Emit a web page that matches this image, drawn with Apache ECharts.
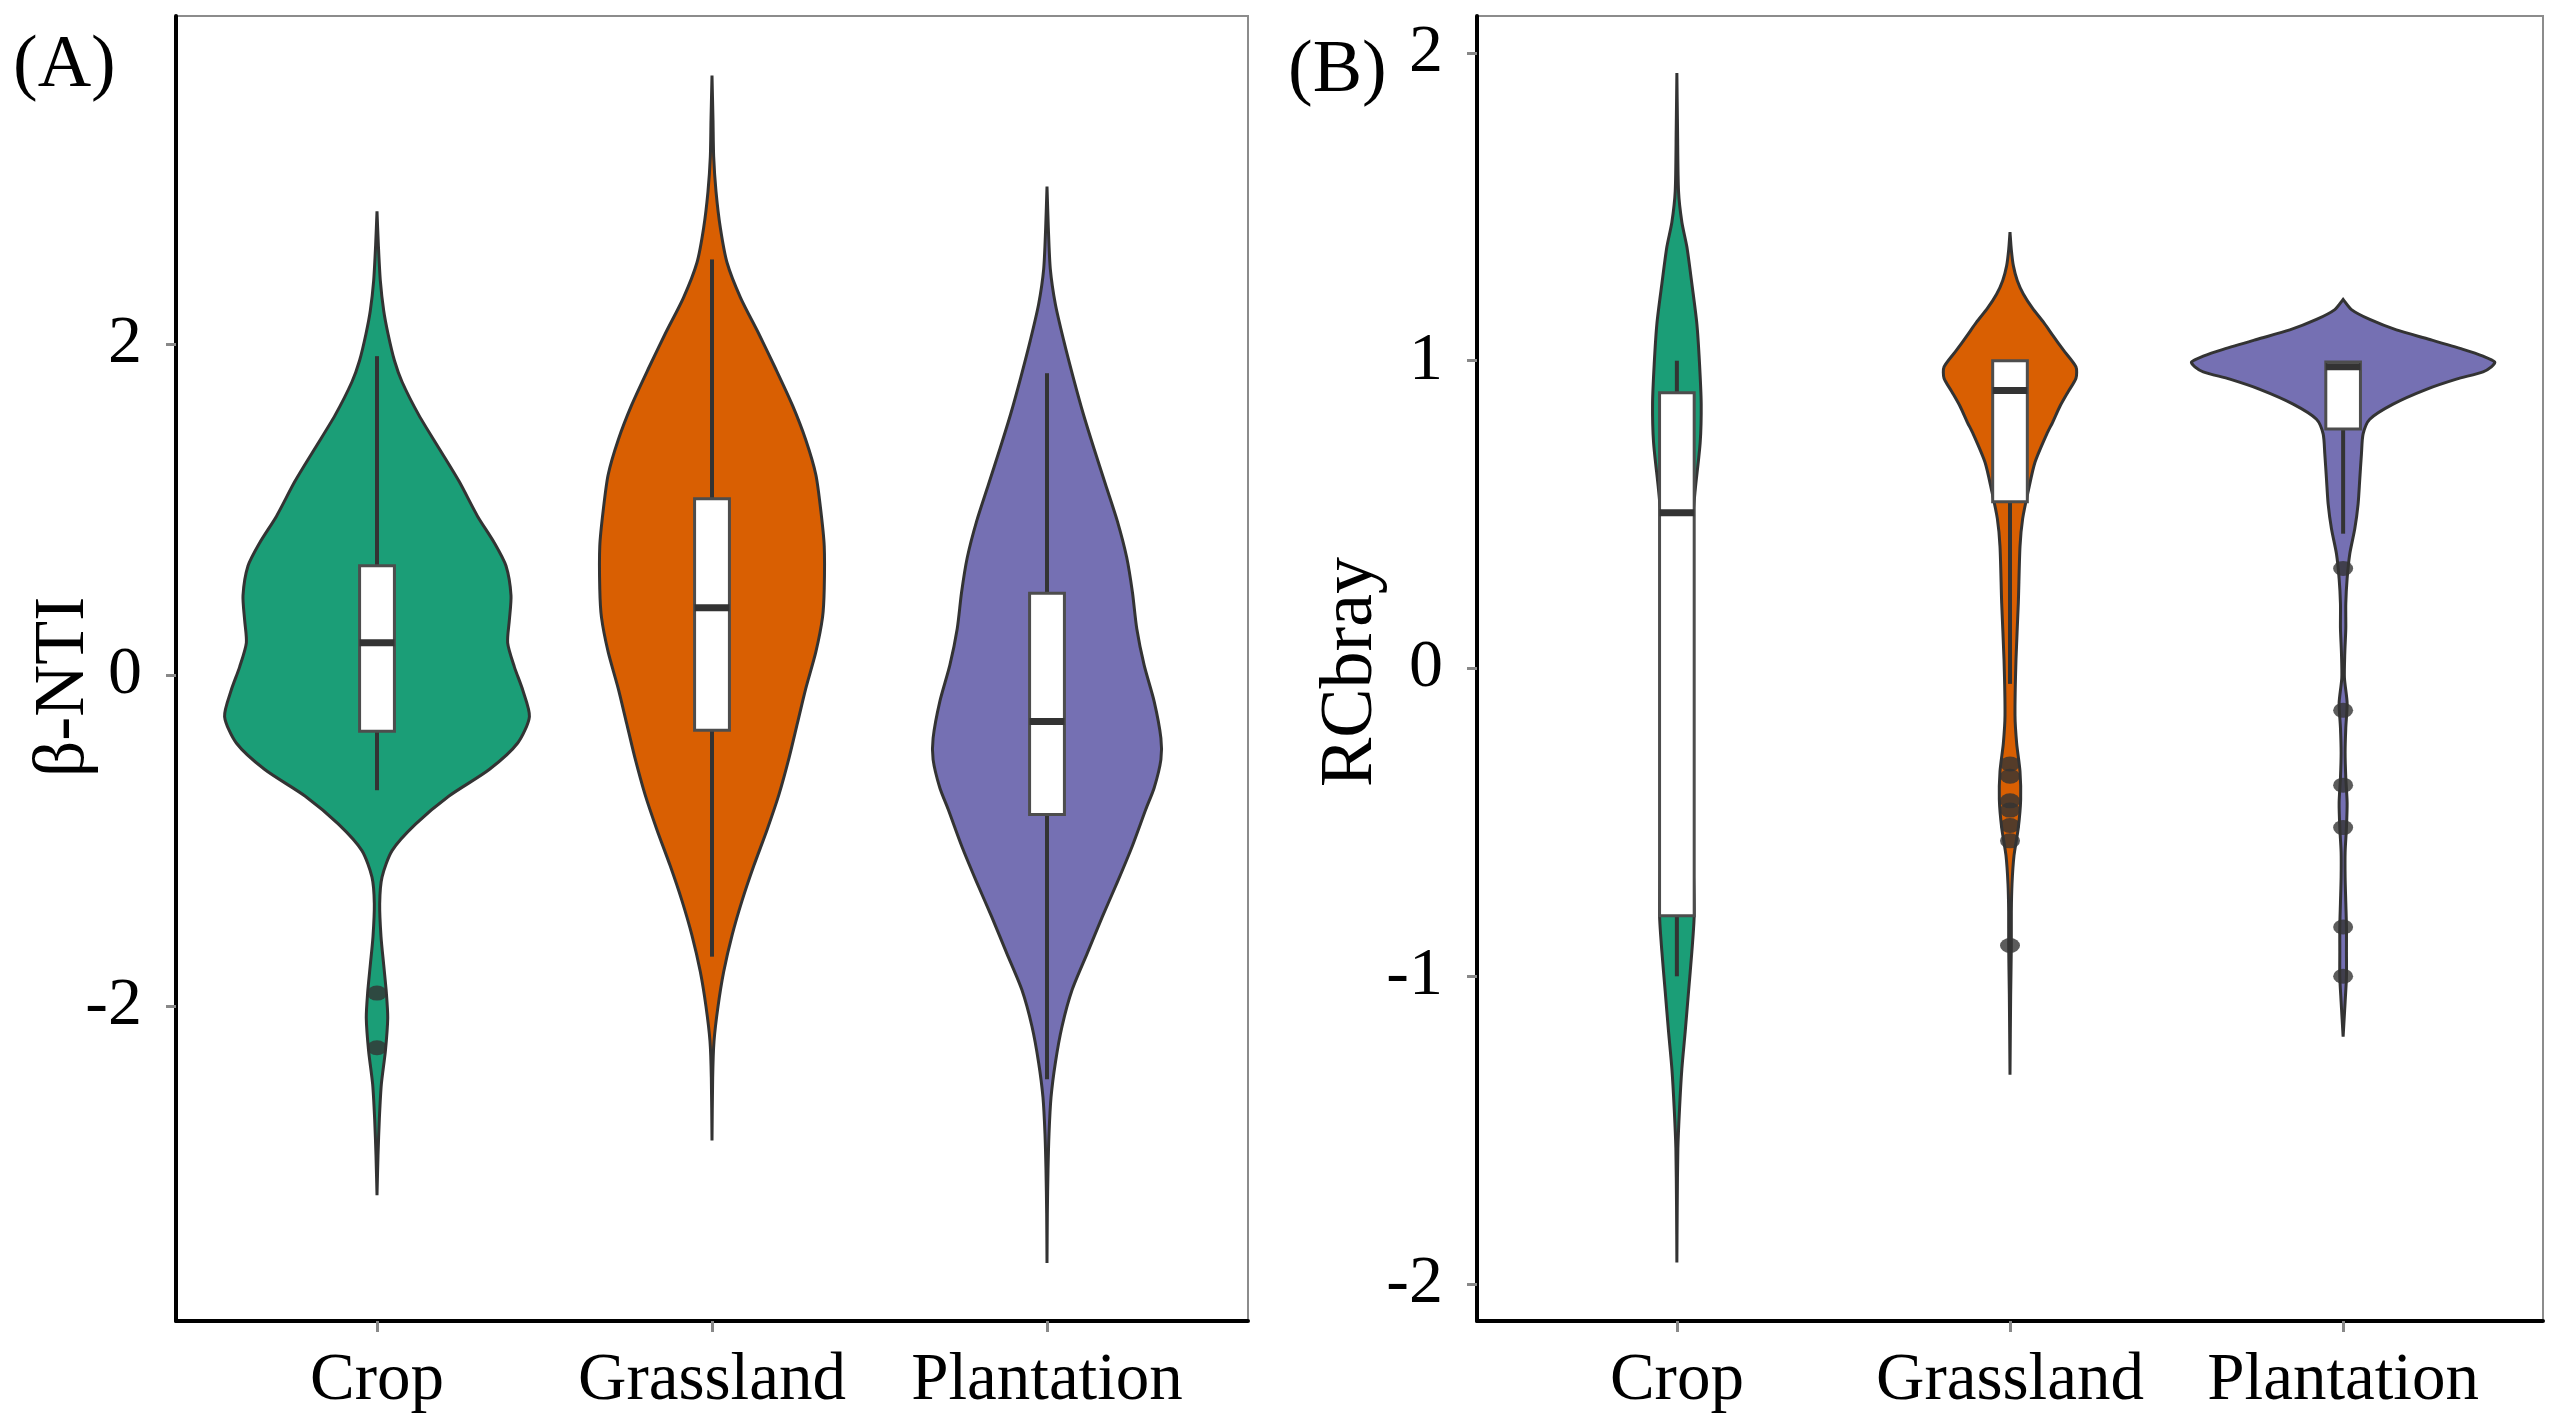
<!DOCTYPE html>
<html><head><meta charset="utf-8">
<script src="https://cdn.jsdelivr.net/npm/echarts@6/dist/echarts.min.js"></script>
<style>html,body{margin:0;padding:0;background:#fff;}#chart{width:2558px;height:1422px;}</style>
</head><body><div id="chart"></div>
<script>
const categories = ['Crop', 'Grassland', 'Plantation'];
const categoryPositions = [1, 2, 3];
const fillColors = ['#1B9E77', '#D95F02', '#7570B3'];
const ntiTicks = [-2, 0, 2];
const rcTicks = [-2, -1, 0, 1, 2];

// Panel A (beta-NTI) violin outlines: value and half-width (category units)
const ntiCropY = [2.80, 2.60, 2.38, 2.20, 2.06, 1.90, 1.77, 1.57, 1.37, 1.17, 0.96, 0.80, 0.66, 0.48, 0.33, 0.195, 0.05, -0.09, -0.25, -0.41, -0.57, -0.73, -0.90, -1.06, -1.22, -1.38, -1.58, -1.75, -1.92, -2.07, -2.27, -2.47, -2.68, -2.90, -3.14];
const ntiCropW = [0, 0.004, 0.01, 0.02, 0.033, 0.052, 0.075, 0.125, 0.185, 0.245, 0.30, 0.35, 0.385, 0.40, 0.395, 0.39, 0.41, 0.435, 0.455, 0.42, 0.335, 0.215, 0.115, 0.045, 0.015, 0.008, 0.012, 0.02, 0.028, 0.032, 0.025, 0.013, 0.007, 0.003, 0];
const ntiGrassY = [3.62, 3.35, 3.13, 2.92, 2.70, 2.49, 2.28, 2.06, 1.85, 1.63, 1.42, 1.21, 0.99, 0.78, 0.52, 0.35, 0.14, -0.08, -0.29, -0.50, -0.72, -0.93, -1.15, -1.36, -1.57, -1.79, -2.00, -2.21, -2.43, -2.81];
const ntiGrassW = [0, 0.003, 0.005, 0.012, 0.025, 0.045, 0.085, 0.14, 0.19, 0.24, 0.28, 0.31, 0.325, 0.335, 0.335, 0.33, 0.31, 0.28, 0.255, 0.23, 0.20, 0.165, 0.125, 0.09, 0.06, 0.035, 0.018, 0.006, 0.002, 0];
const ntiPlantY = [2.95, 2.70, 2.45, 2.24, 2.02, 1.80, 1.58, 1.37, 1.15, 0.93, 0.71, 0.50, 0.28, 0.06, -0.16, -0.38, -0.51, -0.68, -0.81, -1.03, -1.25, -1.46, -1.68, -1.90, -2.12, -2.34, -2.55, -2.77, -2.99, -3.25, -3.55];
const ntiPlantW = [0, 0.004, 0.01, 0.025, 0.05, 0.078, 0.108, 0.14, 0.175, 0.21, 0.238, 0.255, 0.268, 0.29, 0.32, 0.34, 0.34, 0.32, 0.295, 0.255, 0.21, 0.165, 0.12, 0.075, 0.045, 0.025, 0.012, 0.006, 0.003, 0.001, 0];

// Panel B (RCbray) violin outlines
const rcCropY = [1.935, 1.75, 1.55, 1.45, 1.37, 1.25, 1.12, 0.99, 0.86, 0.735, 0.58, 0.45, 0.2, 0, -0.3, -0.6, -0.80, -0.92, -1.05, -1.18, -1.30, -1.43, -1.56, -1.75, -1.93];
const rcCropW = [0, 0.002, 0.005, 0.015, 0.03, 0.045, 0.06, 0.068, 0.073, 0.07, 0.055, 0.045, 0.04, 0.04, 0.042, 0.048, 0.052, 0.045, 0.035, 0.025, 0.015, 0.008, 0.003, 0.001, 0];
const rcGrassY = [1.418, 1.36, 1.309, 1.26, 1.217, 1.17, 1.126, 1.08, 1.035, 0.98, 0.943, 0.90, 0.852, 0.80, 0.761, 0.67, 0.578, 0.487, 0.396, 0.213, 0.03, -0.152, -0.243, -0.334, -0.426, -0.517, -0.608, -0.70, -0.79, -0.90, -1.06, -1.32];
const rcGrassW = [0, 0.004, 0.01, 0.022, 0.04, 0.068, 0.10, 0.13, 0.16, 0.198, 0.198, 0.175, 0.15, 0.128, 0.11, 0.075, 0.055, 0.038, 0.03, 0.025, 0.018, 0.015, 0.02, 0.03, 0.032, 0.025, 0.012, 0.006, 0.004, 0.004, 0.002, 0];
const rcPlantY = [1.199, 1.166, 1.134, 1.10, 1.069, 1.037, 1.015, 0.996, 0.98, 0.964, 0.94, 0.907, 0.859, 0.81, 0.762, 0.697, 0.616, 0.535, 0.454, 0.373, 0.292, 0.211, 0.13, 0.05, -0.031, -0.112, -0.193, -0.274, -0.355, -0.436, -0.516, -0.597, -0.678, -0.76, -0.84, -0.921, -1.002, -1.083, -1.196];
const rcPlantW = [0, 0.025, 0.08, 0.16, 0.26, 0.36, 0.42, 0.455, 0.445, 0.42, 0.34, 0.25, 0.15, 0.08, 0.06, 0.055, 0.05, 0.045, 0.035, 0.02, 0.012, 0.008, 0.008, 0.005, 0.004, 0.012, 0.008, 0.006, 0.008, 0.012, 0.01, 0.006, 0.006, 0.008, 0.01, 0.01, 0.01, 0.006, 0];

// Box stats: [lower whisker, Q1, median, Q3, upper whisker]
const ntiBoxCrop = [-0.695, -0.339, 0.195, 0.660, 1.926];
const ntiBoxGrass = [-1.70, -0.333, 0.407, 1.065, 2.51];
const ntiBoxPlant = [-2.44, -0.842, -0.28, 0.495, 1.823];
const rcBoxCrop = [-1.0, -0.803, 0.506, 0.896, 1.0];
const rcBoxGrass = [-0.05, 0.542, 0.903, 1.0, 1.0];
const rcBoxPlant = [0.438, 0.778, 0.98, 0.996, 0.996];

// Outliers
const ntiOutCrop = [-1.92, -2.25];
const rcOutGrass = [-0.31, -0.35, -0.43, -0.46, -0.51, -0.56, -0.90];
const rcOutPlant = [0.325, -0.136, -0.379, -0.517, -0.84, -1.0];

const FONT = '"Liberation Serif", "Times New Roman", serif';
const BOX_HALF = 0.052;

function violin(gi, pos, ys, ws, color) {
  return {
    type: 'custom', xAxisIndex: gi, yAxisIndex: gi, silent: true, z: 2,
    data: [[pos, ys[0]]],
    renderItem: function (params, api) {
      const cx = api.value(0);
      const pts = [];
      for (let i = 0; i < ys.length; i++) pts.push(api.coord([cx + ws[i], ys[i]]));
      for (let i = ys.length - 1; i >= 0; i--) pts.push(api.coord([cx - ws[i], ys[i]]));
      return { type: 'polygon', shape: { points: pts, smooth: 0.25 }, style: { fill: color, stroke: '#333', lineWidth: 3 } };
    }
  };
}

function boxes(gi, list) {
  return {
    type: 'custom', xAxisIndex: gi, yAxisIndex: gi, silent: true, z: 3,
    data: list.map((b, i) => [categoryPositions[i]].concat(b)),
    renderItem: function (params, api) {
      const cx = api.value(0);
      const lo = api.value(1), q1 = api.value(2), md = api.value(3), q3 = api.value(4), hi = api.value(5);
      const pLo = api.coord([cx, lo]), pQ1 = api.coord([cx, q1]), pQ3 = api.coord([cx, q3]), pHi = api.coord([cx, hi]);
      const tl = api.coord([cx - BOX_HALF, q3]), br = api.coord([cx + BOX_HALF, q1]);
      const ml = api.coord([cx - BOX_HALF, md]), mr = api.coord([cx + BOX_HALF, md]);
      return { type: 'group', children: [
        { type: 'line', shape: { x1: pLo[0], y1: pLo[1], x2: pQ1[0], y2: pQ1[1] }, style: { stroke: '#333', lineWidth: 4 } },
        { type: 'line', shape: { x1: pQ3[0], y1: pQ3[1], x2: pHi[0], y2: pHi[1] }, style: { stroke: '#333', lineWidth: 4 } },
        { type: 'rect', shape: { x: tl[0], y: tl[1], width: br[0] - tl[0], height: br[1] - tl[1] }, style: { fill: '#fff', stroke: '#4d4d4d', lineWidth: 3 } },
        { type: 'line', shape: { x1: ml[0], y1: ml[1], x2: mr[0], y2: mr[1] }, style: { stroke: '#333', lineWidth: 7 } }
      ] };
    }
  };
}

function outliers(gi, pos, vals) {
  return {
    type: 'scatter', xAxisIndex: gi, yAxisIndex: gi, silent: true, z: 4,
    symbol: 'circle', symbolSize: [20, 15], itemStyle: { color: '#333' },
    data: vals.map(v => [pos, v])
  };
}

function xAxisCfg(gi) {
  return {
    type: 'value', gridIndex: gi, min: 0.4, max: 3.6, splitLine: { show: false },
    axisLine: { show: true, onZero: false, lineStyle: { color: '#000', width: 4 } },
    axisTick: { show: true, customValues: categoryPositions, length: 11, lineStyle: { color: '#888', width: 3 } },
    axisLabel: { customValues: categoryPositions, formatter: v => categories[Math.round(v) - 1], fontFamily: FONT, fontSize: 67, color: '#000', margin: 27 }
  };
}
function yAxisCfg(gi, min, max, ticks) {
  return {
    type: 'value', gridIndex: gi, min: min, max: max, splitLine: { show: false },
    axisLine: { show: true, onZero: false, lineStyle: { color: '#000', width: 4 } },
    axisTick: { show: true, customValues: ticks, length: 10, lineStyle: { color: '#888', width: 3 } },
    axisLabel: { customValues: ticks, formatter: v => String(v), fontFamily: FONT, fontSize: 68, color: '#000', margin: 34 }
  };
}

const chart = echarts.init(document.getElementById('chart'), null, { renderer: 'canvas' });
chart.setOption({
  backgroundColor: '#fff',
  animation: false,
  grid: [
    { left: 176, top: 16, width: 1072, height: 1305, show: true, borderColor: '#8c8c8c', borderWidth: 2 },
    { left: 1477, top: 16, width: 1066, height: 1305, show: true, borderColor: '#8c8c8c', borderWidth: 2 }
  ],
  xAxis: [xAxisCfg(0), xAxisCfg(1)],
  yAxis: [yAxisCfg(0, -3.90, 3.98, ntiTicks), yAxisCfg(1, -2.12, 2.12, rcTicks)],
  series: [
    violin(0, 1, ntiCropY, ntiCropW, fillColors[0]),
    violin(0, 2, ntiGrassY, ntiGrassW, fillColors[1]),
    violin(0, 3, ntiPlantY, ntiPlantW, fillColors[2]),
    violin(1, 1, rcCropY, rcCropW, fillColors[0]),
    violin(1, 2, rcGrassY, rcGrassW, fillColors[1]),
    violin(1, 3, rcPlantY, rcPlantW, fillColors[2]),
    boxes(0, [ntiBoxCrop, ntiBoxGrass, ntiBoxPlant]),
    boxes(1, [rcBoxCrop, rcBoxGrass, rcBoxPlant]),
    outliers(0, 1, ntiOutCrop),
    outliers(1, 2, rcOutGrass),
    outliers(1, 3, rcOutPlant)
  ],
  graphic: [
    { type: 'text', left: 13, top: 30, style: { text: '(A)', font: '74px ' + FONT, fill: '#000' } },
    { type: 'text', left: 1288, top: 35, style: { text: '(B)', font: '74px ' + FONT, fill: '#000' } },
    { type: 'text', x: 64, y: 687, rotation: Math.PI / 2, style: { text: 'β-NTI', font: '72px ' + FONT, fill: '#000', align: 'center', verticalAlign: 'middle' } },
    { type: 'text', x: 1352, y: 672, rotation: Math.PI / 2, style: { text: 'RCbray', font: '74px ' + FONT, fill: '#000', align: 'center', verticalAlign: 'middle' } }
  ]
});
</script></body></html>
